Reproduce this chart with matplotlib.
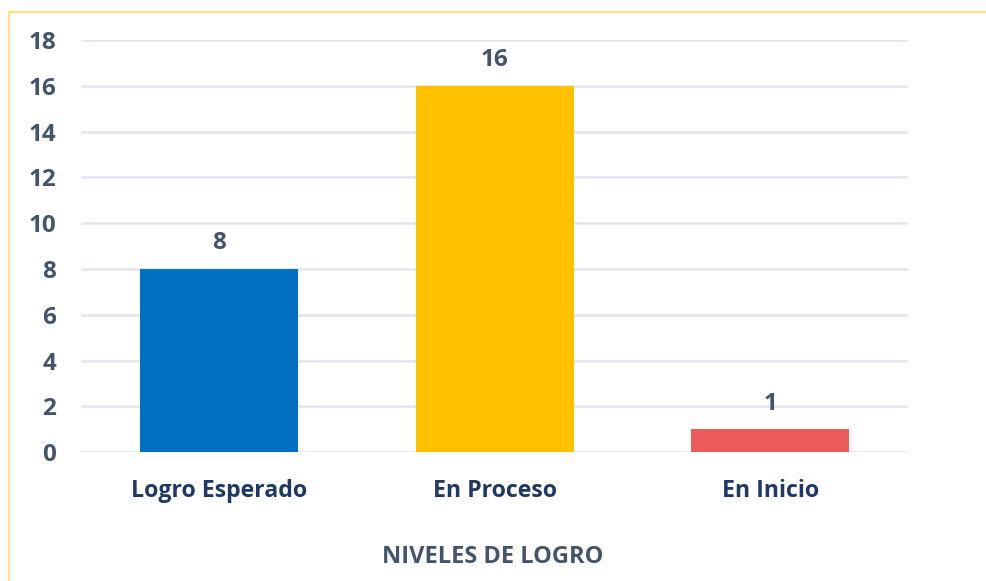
import matplotlib.pyplot as plt
from matplotlib.lines import Line2D

categorias = ['Logro Esperado', 'En Proceso', 'En Inicio']
valores = [8, 16, 1]
colores = ['#0070C0', '#FFC000', '#EB5B5B']
ticks_y = [0, 2, 4, 6, 8, 10, 12, 14, 16, 18]

plt.rcParams['font.family'] = ['Open Sans', 'DejaVu Sans']

fig = plt.figure(figsize=(9.87, 5.81), dpi=100)
ax = fig.add_axes([0.0821, 0.2215, 0.8379, 0.7097])

x = range(len(categorias))
barras = ax.bar(x, valores, width=0.573, color=colores, zorder=3)

ax.set_xlim(-0.5, 2.5)
ax.set_ylim(0, 18)
ax.set_yticks(ticks_y)
ax.set_yticklabels([str(t) for t in ticks_y], fontsize=17.5, fontweight='bold', color='#44546A')
ax.set_xticks(list(x))
ax.set_xticklabels(categorias, fontsize=16.7, fontweight='bold', color='#1F3864')
ax.tick_params(axis='y', length=0, pad=18)
ax.tick_params(axis='x', length=0, pad=19)

ax.grid(axis='y', color='#E2E5EC', linewidth=1.8, zorder=0)
for lado in ax.spines.values():
    lado.set_visible(False)

for b, v in zip(barras, valores):
    ax.annotate(str(v), (b.get_x() + b.get_width() / 2, v), xytext=(0, 10),
                textcoords='offset points', ha='center', va='bottom',
                fontsize=17.5, fontweight='bold', color='#44546A')

fig.text(0.4995, 1 - 557 / 581, 'NIVELES DE LOGRO', ha='center', va='center',
         fontsize=17, fontweight='bold', color='#44546A')

# marco amarillo (solo arriba e izquierda visibles)
fig.add_artist(Line2D([9 / 987, 1.0], [1 - 11.5 / 581, 1 - 11.5 / 581],
                      transform=fig.transFigure, color='#FFE08A', linewidth=1.6))
fig.add_artist(Line2D([9 / 987, 9 / 987], [0.0, 1 - 11.5 / 581],
                      transform=fig.transFigure, color='#FFE08A', linewidth=1.6))

fig.savefig('out.png', dpi=100)
